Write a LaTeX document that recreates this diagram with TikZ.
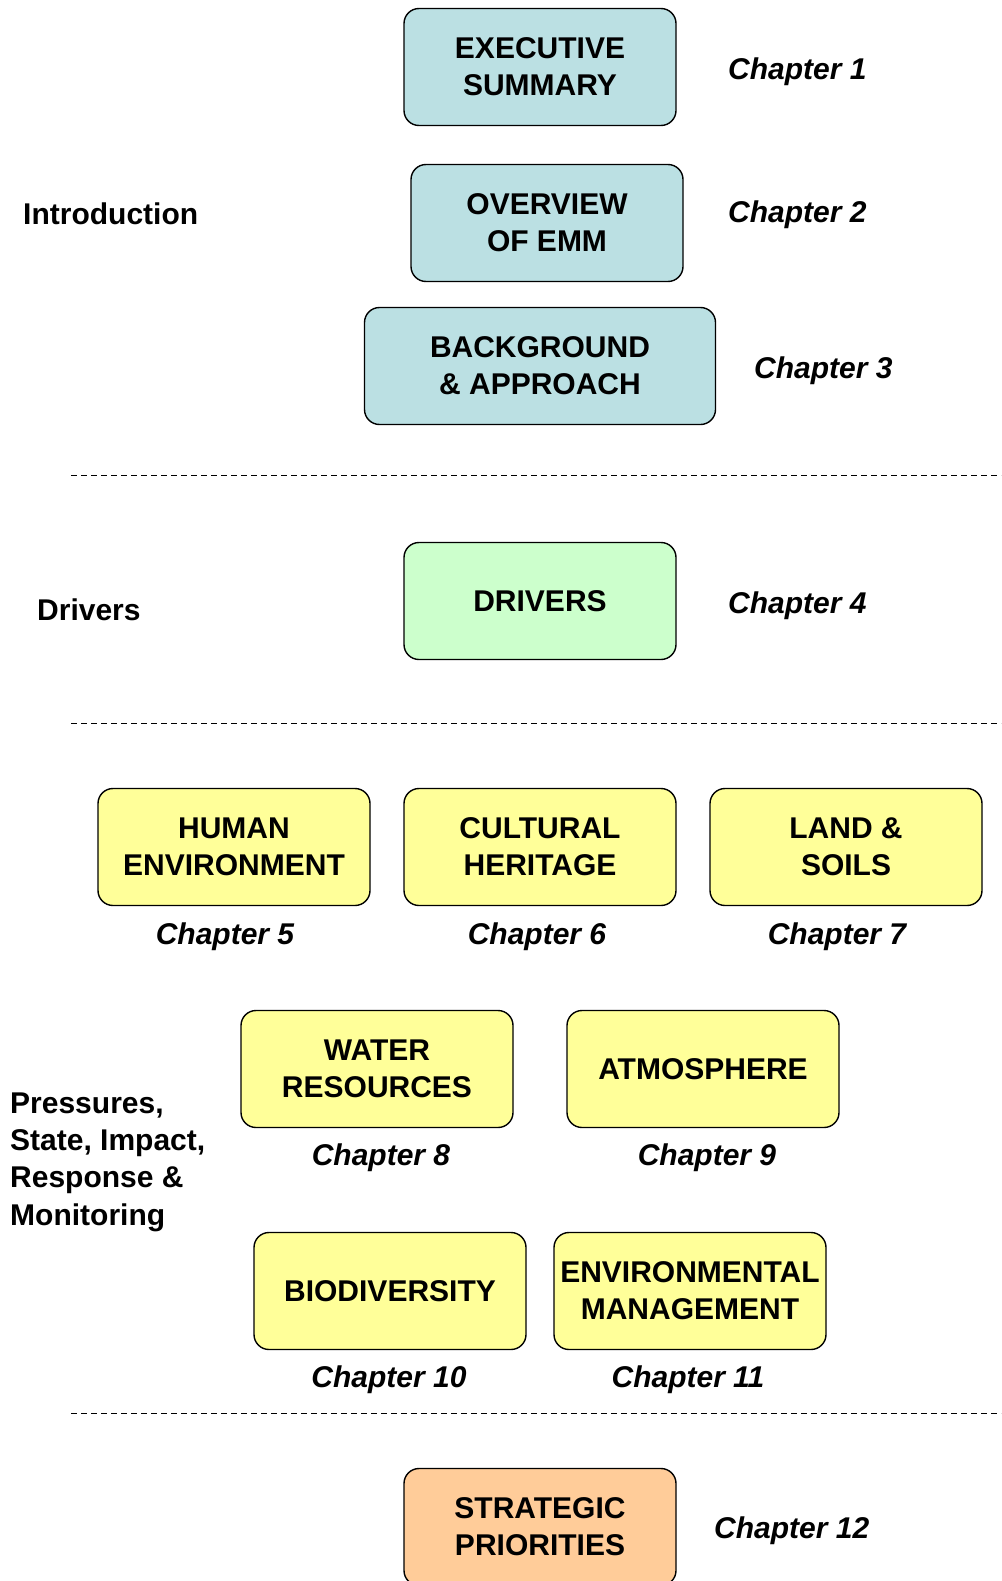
\documentclass[tikz,border=0pt]{standalone}
\usepackage{fontspec}
\setmainfont{Liberation Sans}
\definecolor{intro}{HTML}{BBE0E3}
\definecolor{driver}{HTML}{CCFFCC}
\definecolor{pressure}{HTML}{FFFF99}
\definecolor{priority}{HTML}{FFCC99}
\begin{document}
\begin{tikzpicture}[x=1pt, y=-1pt,
  chapbox/.style={draw, line width=1.4pt, rounded corners=15pt, minimum width=272pt,
    minimum height=117pt, align=center, inner sep=0pt,
    font=\fontsize{30}{37}\selectfont\bfseries},
  chaplabel/.style={font=\fontsize{30}{37}\selectfont\bfseries\itshape, inner sep=0pt},
  partlabel/.style={font=\fontsize{30}{37.3}\selectfont\bfseries, anchor=west, align=left, inner sep=0pt},
  divider/.style={dashed, line width=1pt, dash pattern=on 6pt off 4pt}]

\useasboundingbox (0,0) rectangle (1001,1581);

% introduction
\node [chapbox, fill=intro] (exec) at (540, 67) {EXECUTIVE\\SUMMARY};
\node [chapbox, fill=intro] (overview) at (547, 223) {OVERVIEW\\OF EMM};
\node [chapbox, fill=intro, minimum width=351pt] (background) at (540, 366) {BACKGROUND\\\& APPROACH};
\node [chaplabel, anchor=west] (ch1) at (728, 72) {Chapter 1};
\node [chaplabel, anchor=west] (ch2) at (728, 215) {Chapter 2};
\node [chaplabel, anchor=west] (ch3) at (754, 371) {Chapter 3};
\node [partlabel] (intro) at (23, 214) {Introduction};

\coordinate (d1a) at (71, 475);
\coordinate (d1b) at (1001, 475);
\draw [divider] (d1a) -- (d1b);

% drivers
\node [chapbox, fill=driver] (drivers) at (540, 601) {DRIVERS};
\node [chaplabel, anchor=west] (ch4) at (728, 606) {Chapter 4};
\node [partlabel] (driverpart) at (37, 610) {Drivers};

\coordinate (d2a) at (71, 723);
\coordinate (d2b) at (1001, 723);
\draw [divider] (d2a) -- (d2b);

% pressures, state, impact
\node [chapbox, fill=pressure] (human) at (234, 847) {HUMAN\\ENVIRONMENT};
\node [chapbox, fill=pressure] (cultural) at (540, 847) {CULTURAL\\HERITAGE};
\node [chapbox, fill=pressure] (land) at (846, 847) {LAND \&\\SOILS};
\node [chaplabel] (ch5) at (225, 937) {Chapter 5};
\node [chaplabel] (ch6) at (537, 937) {Chapter 6};
\node [chaplabel] (ch7) at (837, 937) {Chapter 7};

\node [chapbox, fill=pressure] (water) at (377, 1069) {WATER\\RESOURCES};
\node [chapbox, fill=pressure] (atmos) at (703, 1069) {ATMOSPHERE};
\node [chaplabel] (ch8) at (381, 1158) {Chapter 8};
\node [chaplabel] (ch9) at (707, 1158) {Chapter 9};

\node [chapbox, fill=pressure] (bio) at (390, 1291) {BIODIVERSITY};
\node [chapbox, fill=pressure] (envman) at (690, 1291) {ENVIRONMENTAL\\MANAGEMENT};
\node [chaplabel] (ch10) at (389, 1380) {Chapter 10};
\node [chaplabel] (ch11) at (688, 1380) {Chapter 11};

\node [partlabel] (psir) at (10, 1162) {Pressures,\\State, Impact,\\Response \&\\Monitoring};

\coordinate (d3a) at (71, 1413);
\coordinate (d3b) at (1001, 1413);
\draw [divider] (d3a) -- (d3b);

% strategic priorities
\node [chapbox, fill=priority] (strategic) at (540, 1527) {STRATEGIC\\PRIORITIES};
\node [chaplabel, anchor=west] (ch12) at (714, 1531) {Chapter 12};

\end{tikzpicture}
\end{document}
